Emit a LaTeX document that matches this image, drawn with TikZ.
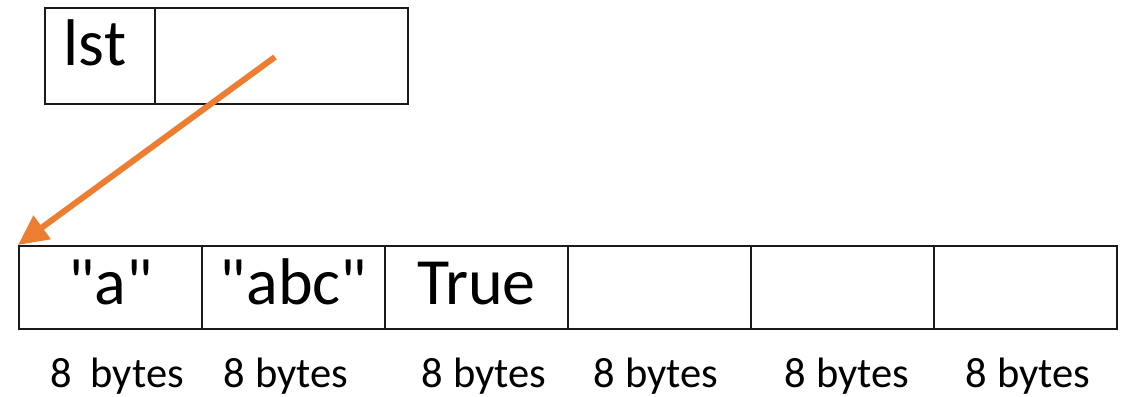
\documentclass[tikz,border=0pt]{standalone}
\usepackage{fontspec}
\setmainfont{Carlito}[Ligatures=TeXOff]
\usetikzlibrary{arrows.meta}
\definecolor{ptrorange}{HTML}{ED7D31}
\definecolor{lineblk}{HTML}{1A1A1A}
\begin{document}
\begin{tikzpicture}[x=1pt,y=-1pt,
  cell/.style={draw=lineblk,line width=2pt,inner sep=0pt,minimum height=83pt,minimum width=183pt},
  topcell/.style={draw=lineblk,line width=2pt,inner sep=0pt,minimum height=96pt},
  big/.style={font=\fontsize{66}{70}\selectfont,anchor=base,inner sep=0pt},
  lbl/.style={font=\fontsize{42.5}{46}\selectfont,anchor=base,inner sep=0pt},
  ptr/.style={draw=ptrorange,line width=6pt,-{Triangle[length=30pt,width=28pt]}}]
\useasboundingbox (0,0) rectangle (1126,396);
% top box
\node[topcell,minimum width=110pt] (lstcell) at (100,56) {};
\node[topcell,minimum width=253pt] (ptrcell) at (281.5,56) {};
\node[big] (lsttext) at (95,66) {lst};
% bottom row
\node[cell] (c1) at (110.5,287.5) {};
\node[cell] (c2) at (293.5,287.5) {};
\node[cell] (c3) at (476.5,287.5) {};
\node[cell] (c4) at (659.5,287.5) {};
\node[cell] (c5) at (842.5,287.5) {};
\node[cell] (c6) at (1025.5,287.5) {};
\node[big] (t1) at (110.5,304) {"a"};
\node[big] (t2) at (293.5,304) {"abc"};
\node[big] (t3) at (476.5,304) {True};
% labels
\node[lbl] (l1) at (117,387) {8\ \ bytes};
\node[lbl] (l2) at (286,387) {8 bytes};
\node[lbl] (l3) at (484,387) {8 bytes};
\node[lbl] (l4) at (656,387) {8 bytes};
\node[lbl] (l5) at (847,387) {8 bytes};
\node[lbl] (l6) at (1028,387) {8 bytes};
% pointer
\coordinate (pstart) at (275,57);
\draw[ptr] (pstart) -- (c1.north west);
\end{tikzpicture}
\end{document}
